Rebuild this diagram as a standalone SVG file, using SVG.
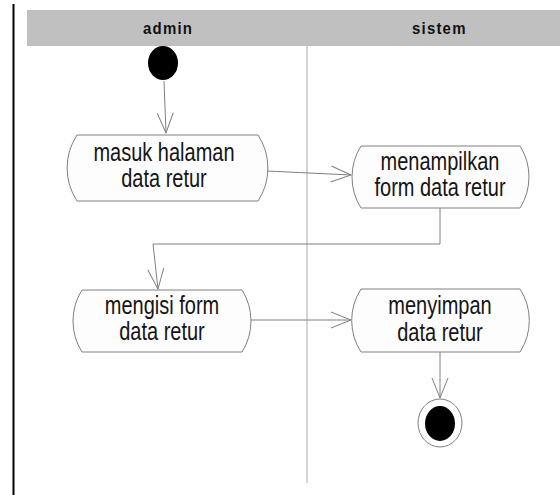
<svg xmlns="http://www.w3.org/2000/svg" width="560" height="495" viewBox="0 0 560 495">
<style>
.node{fill:#fdfdfd;stroke:#808080;stroke-width:1}
.lbl{font-family:"Liberation Sans",Arial,sans-serif;font-size:20px;fill:#141414;text-anchor:middle}
.hdr{font-family:"Liberation Sans",Arial,sans-serif;font-size:15px;font-weight:bold;fill:#111;letter-spacing:1.2px}
.conn{fill:none;stroke:#808080;stroke-width:1}
</style>
<defs>
<marker id="arr" markerWidth="24" markerHeight="20" refX="22" refY="10" orient="auto" markerUnits="userSpaceOnUse" viewBox="0 0 24 20">
<path d="M2,2 L22,10 L2,18" fill="none" stroke="#808080" stroke-width="1"/>
</marker>
</defs>
<rect x="0" y="0" width="560" height="495" fill="#ffffff"/>
<g id="frame">
<line x1="13.5" y1="4" x2="13.5" y2="495" stroke="#000" stroke-width="2"/>
<rect x="27" y="10" width="533" height="36" fill="#c0c0c0"/>
<line x1="307" y1="46" x2="307" y2="483" stroke="#a8a8a8" stroke-width="1"/>
<text class="hdr" transform="translate(143,34) scale(1,1.1)">admin</text>
<text class="hdr" transform="translate(412,34) scale(1,1.1)">sistem</text>
</g>
<g id="connectors">
<path class="conn" d="M164,81 L166,133" marker-end="url(#arr)"/>
<path class="conn" d="M267,171 L351,175" marker-end="url(#arr)"/>
<path class="conn" d="M440,208 V244 H153 L158,289" marker-end="url(#arr)"/>
<path class="conn" d="M251,320 H351" marker-end="url(#arr)"/>
<path class="conn" d="M440,352 V398" marker-end="url(#arr)"/>
</g>
<g id="start">
<ellipse cx="163" cy="63" rx="15" ry="17" fill="#000"/>
</g>
<g id="masuk">
<path class="node" d="M77,135 H258 A60,60 0 0 1 258,201 H77 A60,60 0 0 1 77,135 Z"/>
<text class="lbl" transform="translate(164,161) scale(1,1.25)">masuk halaman</text>
<text class="lbl" transform="translate(164,187) scale(1,1.25)">data retur</text>
</g>
<g id="menampilkan">
<path class="node" d="M361,146 H520 A58,58 0 0 1 520,208 H361 A58,58 0 0 1 361,146 Z"/>
<text class="lbl" transform="translate(440,170) scale(1,1.25)">menampilkan</text>
<text class="lbl" transform="translate(440,196) scale(1,1.25)">form data retur</text>
</g>
<g id="mengisi">
<path class="node" d="M82,290 H242 A58,58 0 0 1 242,352 H82 A58,58 0 0 1 82,290 Z"/>
<text class="lbl" transform="translate(162,314) scale(1,1.25)">mengisi form</text>
<text class="lbl" transform="translate(162,340) scale(1,1.25)">data retur</text>
</g>
<g id="menyimpan">
<path class="node" d="M361,289 H520 A58,58 0 0 1 520,352 H361 A58,58 0 0 1 361,289 Z"/>
<text class="lbl" transform="translate(440,314) scale(1,1.25)">menyimpan</text>
<text class="lbl" transform="translate(440,341) scale(1,1.25)">data retur</text>
</g>
<g id="end">
<ellipse cx="440" cy="423" rx="22" ry="24" fill="#fff" stroke="#808080" stroke-width="1"/>
<ellipse cx="440" cy="423.5" rx="15" ry="17.5" fill="#000"/>
</g>
</svg>
